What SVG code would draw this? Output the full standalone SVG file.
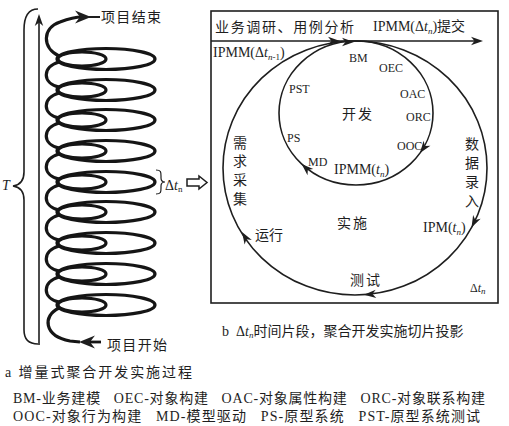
<svg xmlns="http://www.w3.org/2000/svg" xmlns:xlink="http://www.w3.org/1999/xlink" width="509" height="426" viewBox="0 0 509 426">
<style>
text{font-family:"Liberation Serif","Noto Sans CJK SC",serif;fill:#1e1e1e}
.cn{font-family:"Noto Sans CJK SC","Liberation Serif",sans-serif}
.l14{font-size:14px}
.l12{font-size:12px}
.it{font-style:italic}
.sub{font-size:9px}
.thin{fill:none;stroke:#1e1e1e;stroke-width:1.6}
.heavy{fill:none;stroke:#151515;stroke-width:3.2}
.ah{fill:#1e1e1e}
</style>
<defs>
<path id="ah" d="M0,0 L-12,-4.2 L-8.5,0 L-12,4.2 Z"/>
<path id="ahb" d="M0,0 L-16,-6.5 L-11,0 L-16,6.5 Z"/>
<g id="loop">
<ellipse cx="106" cy="0" rx="49" ry="10.5"/>
<ellipse cx="82" cy="0" rx="24" ry="7"/>
</g>
<path id="bump" d="M59,3 C42,8 42,24 59,28"/>
</defs>

<!-- left panel: incremental spiral -->
<g id="timeline">
<path class="thin" d="M39,345 L39,20"/>
<use xlink:href="#ah" class="ah" transform="translate(39,14) rotate(-90)"/>
<path class="thin" d="M38,9 C28,9 24,18 24,30 L24,172 C24,180 20,185 13,186 C20,187 24,192 24,200 L24,330 C24,340 30,344 38,344"/>
<text x="2" y="190" class="l14 it">T</text>
</g>

<g id="spiral" class="heavy">
<use xlink:href="#loop" y="59"/>
<use xlink:href="#loop" y="90"/>
<use xlink:href="#loop" y="120"/>
<use xlink:href="#loop" y="151"/>
<use xlink:href="#loop" y="182"/>
<use xlink:href="#loop" y="212"/>
<use xlink:href="#loop" y="243"/>
<use xlink:href="#loop" y="274"/>
<use xlink:href="#loop" y="305"/>
<use xlink:href="#bump" y="59"/>
<use xlink:href="#bump" y="90"/>
<use xlink:href="#bump" y="120"/>
<use xlink:href="#bump" y="151"/>
<use xlink:href="#bump" y="182"/>
<use xlink:href="#bump" y="212"/>
<use xlink:href="#bump" y="243"/>
<use xlink:href="#bump" y="274"/>
<path d="M59,56 C42,48 42,28 60,22 C68,19 74,17 82,17"/>
<path d="M59,308 C42,316 44,336 70,341 L80,342"/>
</g>
<g id="spiral-ends">
<use xlink:href="#ahb" class="ah" transform="translate(91,17)"/>
<path class="thin" d="M88,17 L100,17" style="stroke-width:2"/>
<use xlink:href="#ahb" class="ah" transform="translate(79,342) rotate(180)"/>
<path class="heavy" d="M90,342 L101,342" style="stroke-width:2.8"/>
<text x="101" y="22" class="cn l14" textLength="60">项目结束</text>
<text x="107" y="350" class="cn l14" textLength="60">项目开始</text>
</g>

<g id="delta-link">
<path class="thin" style="stroke-width:1.2" d="M156,170 C161,170 161,172 161,176 L161,178 C161,181 162,182 165,182 C162,182 161,183 161,186 L161,188 C161,192 161,194 156,194"/>
<text x="165" y="190" class="l14">Δ<tspan class="it">t</tspan><tspan class="sub" dy="2">n</tspan></text>
<path d="M187,179 L199,179 L199,176 L207,182.5 L199,189 L199,186 L187,186 Z" fill="#fff" stroke="#1e1e1e" stroke-width="1.5"/>
</g>

<!-- right panel -->
<g id="slice-box">
<rect x="211" y="11" width="287" height="292" class="thin"/>
</g>

<g id="connectors">
<path class="thin" d="M211,41 L480,41"/>
<use xlink:href="#ah" class="ah" transform="translate(340,41)"/>
<use xlink:href="#ah" class="ah" transform="translate(354,42)"/>
<use xlink:href="#ah" class="ah" transform="translate(483,41)"/>
<ellipse class="thin" cx="355" cy="168" rx="132" ry="127"/>
<ellipse class="thin" cx="356" cy="113" rx="77" ry="72"/>
<use xlink:href="#ah" class="ah" transform="translate(420,153) rotate(125.5)"/>
<use xlink:href="#ah" class="ah" transform="translate(301.6,164) rotate(223)"/>
<use xlink:href="#ah" class="ah" transform="translate(471.5,227.6) rotate(116.6)"/>
<use xlink:href="#ah" class="ah" transform="translate(364,294.7) rotate(176)"/>
<use xlink:href="#ah" class="ah" transform="translate(242,232) rotate(238.8)"/>
</g>

<g id="top-labels">
<text x="215" y="32" class="cn l14" textLength="139">业务调研、用例分析</text>
<text x="373" y="31" class="l14">IPMM(Δ<tspan class="it">t</tspan><tspan class="sub it" dy="3">n</tspan><tspan dy="-3">)提交</tspan></text>
<text x="213" y="57" class="l14">IPMM(Δ<tspan class="it">t</tspan><tspan class="sub" dy="3"><tspan class="it">n</tspan>-1</tspan><tspan dy="-3">)</tspan></text>
</g>

<g id="dev-cycle">
<text x="349" y="62" class="l12">BM</text>
<text x="379" y="72" class="l12">OEC</text>
<text x="289" y="93" class="l12">PST</text>
<text x="400" y="98" class="l12">OAC</text>
<text x="342" y="119" class="cn l14" textLength="30">开发</text>
<text x="406" y="121" class="l12">ORC</text>
<text x="287" y="142" class="l12">PS</text>
<text x="397" y="150" class="l12">OOC</text>
<text x="308" y="166" class="l12">MD</text>
<text x="334" y="174" class="l14">IPMM(<tspan class="it">t</tspan><tspan class="sub it" dy="3">n</tspan><tspan dy="-3">)</tspan></text>
</g>

<g id="impl-cycle">
<g class="cn l14" text-anchor="middle">
<text x="240" y="148">需</text>
<text x="240" y="166">求</text>
<text x="240" y="185">采</text>
<text x="240" y="204">集</text>
<text x="472" y="149">数</text>
<text x="472" y="168">据</text>
<text x="472" y="187">录</text>
<text x="472" y="206">入</text>
</g>
<text x="337" y="228" class="cn l14" textLength="30">实施</text>
<text x="423" y="232" class="l14">IPM(<tspan class="it">t</tspan><tspan class="sub it" dy="3">n</tspan><tspan dy="-3">)</tspan></text>
<text x="255" y="240" class="cn l14" textLength="28">运行</text>
<text x="350" y="285" class="cn l14" textLength="30">测试</text>
<text x="470" y="292" class="l12">Δ<tspan class="it">t</tspan><tspan class="sub it" dy="2">n</tspan></text>
</g>

<g id="captions">
<text x="222" y="336" class="l14" xml:space="preserve">b  Δ<tspan class="it">t</tspan><tspan class="sub it" dy="2">n</tspan><tspan dy="-2" class="cn">时间片段，聚合开发实施切片投影</tspan></text>
<text x="5" y="377" class="l14" textLength="187" xml:space="preserve">a 增量式聚合开发实施过程</text>
<text x="13" y="403" class="l14" textLength="472" xml:space="preserve">BM-业务建模   OEC-对象构建   OAC-对象属性构建   ORC-对象联系构建</text>
<text x="13" y="421" class="l14" textLength="467" xml:space="preserve">OOC-对象行为构建   MD-模型驱动   PS-原型系统   PST-原型系统测试</text>
</g>
</svg>
